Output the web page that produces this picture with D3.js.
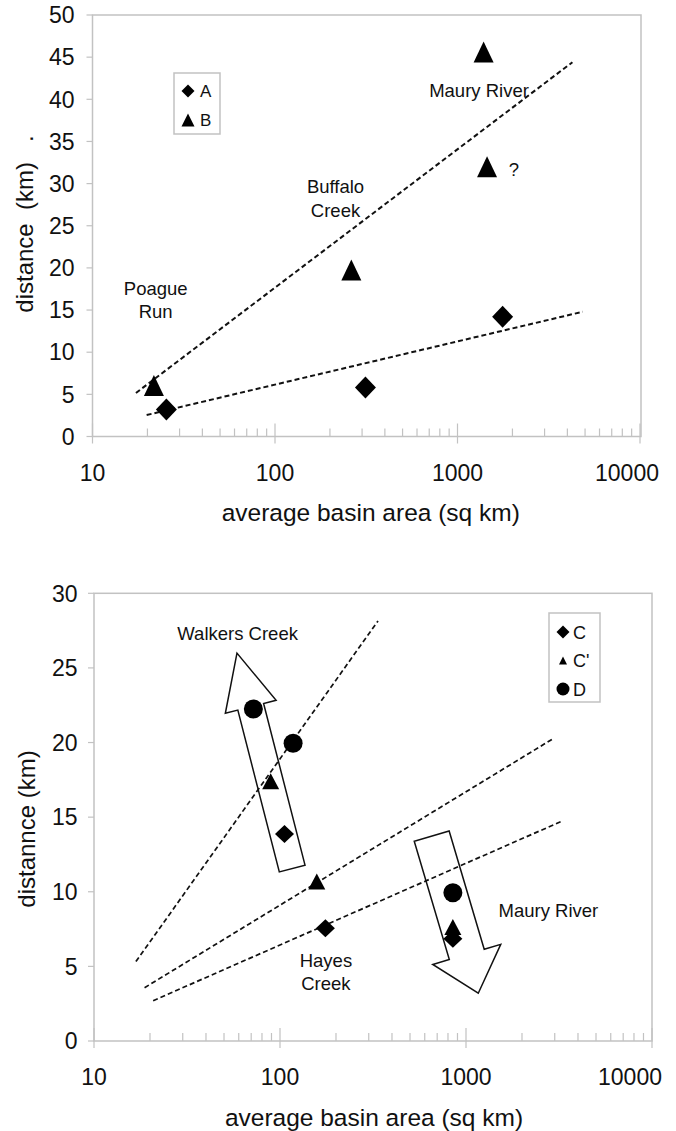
<!DOCTYPE html>
<html><head><meta charset="utf-8">
<script src="https://cdn.jsdelivr.net/npm/d3@7"></script>
<style>
body{margin:0;background:#fff}
svg{display:block}
text{font-family:"Liberation Sans",Arial,Helvetica,sans-serif;fill:#111}
</style>
</head><body>
<svg id="c" width="676" height="1131"></svg>
<script>
// ---------- data ----------
const xTickValues = [10, 100, 1000, 10000];
const xTickLabels = ["10", "100", "1000", "10000"];
const topYTicks = [0, 5, 10, 15, 20, 25, 30, 35, 40, 45, 50];
const bottomYTicks = [0, 5, 10, 15, 20, 25, 30];

// top panel
const topSeriesNames = ["A", "B"];
const areaA = [25.4, 313, 1767];
const distA = [3.2, 5.8, 14.2];
const areaB = [21.7, 262, 1390, 1452];
const distB = [6.05, 19.75, 45.6, 32.0];
const trendAreaA = [19.8, 4861];
const trendDistA = [2.55, 14.8];
const trendAreaB = [17.3, 4263];
const trendDistB = [5.16, 44.4];

// bottom panel
const bottomSeriesNames = ["C", "C'", "D"];
const areaC = [105.7, 175.4, 850];
const distC = [13.87, 7.55, 6.85];
const areaCp = [89.1, 157.7, 850];
const distCp = [17.4, 10.68, 7.64];
const areaD = [71.9, 117.6, 850];
const distD = [22.25, 19.95, 9.94];
const trend1Area = [16.8, 336.5];
const trend1Dist = [5.32, 28.15];
const trend2Area = [18.7, 2923];
const trend2Dist = [3.57, 20.24];
const trend3Area = [20.8, 3303];
const trend3Dist = [2.70, 14.75];

// arrows: [tail, tip]
const walkersArrowArea = [116.3, 58.7];
const walkersArrowDist = [11.55, 25.99];
const mauryArrowArea = [654, 1164];
const mauryArrowDist = [13.73, 3.2];

// ---------- drawing ----------
const svg = d3.select("#c");
svg.append("rect").attr("width", 676).attr("height", 1131).attr("fill", "#fff");

const GRID = "#c2c2c2";

function diamondPath(w, h) {
  return `M0,${-h/2}L${w/2},0L0,${h/2}L${-w/2},0Z`;
}
function trianglePath(w, h) {
  return `M0,${-h/2}L${w/2},${h/2}L${-w/2},${h/2}Z`;
}
function circlePath(d) {
  return d3.symbol().type(d3.symbolCircle).size(Math.PI * d * d / 4)();
}

function panel(p) {
  const g = svg.append("g");
  const x = d3.scaleLog().domain([10, 10000]).range([p.left, p.right]);
  const y = d3.scaleLinear().domain([0, p.ymax]).range([p.bottom, p.top]);

  // frame
  g.append("rect").attr("x", p.left).attr("y", p.top)
    .attr("width", p.frameRight - p.left).attr("height", p.bottom - p.top)
    .attr("fill", "none").attr("stroke", GRID).attr("stroke-width", 1.5);

  // y ticks & labels
  g.selectAll(".yt").data(p.yTicks).enter().append("line")
    .attr("x1", p.left - 6).attr("x2", p.left)
    .attr("y1", d => y(d)).attr("y2", d => y(d))
    .attr("stroke", GRID).attr("stroke-width", 1.2);
  g.selectAll(".yl").data(p.yTicks).enter().append("text")
    .attr("x", p.left - p.yLabelGap).attr("y", d => y(d))
    .attr("dy", "0.36em").attr("text-anchor", "end")
    .attr("font-size", 23).text(d => d);

  // x minor ticks
  const minor = [];
  [10, 100, 1000].forEach(dec => { for (let k = 2; k <= 9; k++) minor.push(dec * k); });
  g.selectAll(".xm").data(minor).enter().append("line")
    .attr("x1", d => x(d)).attr("x2", d => x(d))
    .attr("y1", p.bottom - 8).attr("y2", p.bottom)
    .attr("stroke", GRID).attr("stroke-width", 1.2);
  g.selectAll(".xM").data(xTickValues).enter().append("line")
    .attr("x1", d => x(d)).attr("x2", d => x(d))
    .attr("y1", p.bottom - 13).attr("y2", p.bottom + 7)
    .attr("stroke", GRID).attr("stroke-width", 1.2);
  g.selectAll(".xl").data(xTickValues).enter().append("text")
    .attr("x", d => x(d)).attr("y", p.xLabelBaseline)
    .attr("text-anchor", "middle").attr("font-size", 23)
    .text((d, i) => xTickLabels[i])
    .each(function () {
      const t = d3.select(this);
      const w = this.getComputedTextLength();
      const cx = +t.attr("x");
      if (cx + w / 2 > p.labelLimit) t.attr("x", p.labelLimit - w / 2);
    });

  // axis titles
  g.append("text").attr("x", (p.left + p.frameRight) / 2 + p.xTitleShift)
    .attr("y", p.xTitleBaseline).attr("text-anchor", "middle")
    .attr("font-size", 24.5).text("average basin area (sq km)");
  g.append("text")
    .attr("transform", `translate(${p.yTitleX},${p.yTitleY}) rotate(-90)`)
    .attr("text-anchor", "middle").attr("dy", "0.35em")
    .attr("font-size", 24).style("white-space", "pre")
    .text(p.yTitle);

  return { g, x, y };
}

function dashed(g, x, y, areas, dists, w) {
  const line = d3.line().x((d, i) => x(areas[i])).y((d, i) => y(dists[i]));
  g.append("path").attr("d", line(areas)).attr("fill", "none")
    .attr("stroke", "#111").attr("stroke-width", w)
    .attr("stroke-dasharray", "5,3");
}

function markers(g, x, y, areas, dists, path) {
  g.selectAll(null).data(areas).enter().append("path")
    .attr("d", path)
    .attr("transform", (d, i) => `translate(${x(d)},${y(dists[i])})`)
    .attr("fill", "#000");
}

function blockArrow(g, x, y, areas, dists, shaftW, headW, headL) {
  const tx = x(areas[0]), ty = y(dists[0]);
  const px = x(areas[1]), py = y(dists[1]);
  const len = Math.hypot(px - tx, py - ty);
  const ux = (px - tx) / len, uy = (py - ty) / len;
  const nx = -uy, ny = ux;
  const bx = px - ux * headL, by = py - uy * headL;
  const pts = [
    [tx + nx * shaftW / 2, ty + ny * shaftW / 2],
    [bx + nx * shaftW / 2, by + ny * shaftW / 2],
    [bx + nx * headW / 2, by + ny * headW / 2],
    [px, py],
    [bx - nx * headW / 2, by - ny * headW / 2],
    [bx - nx * shaftW / 2, by - ny * shaftW / 2],
    [tx - nx * shaftW / 2, ty - ny * shaftW / 2]
  ];
  g.append("path").attr("d", d3.line()(pts) + "Z")
    .attr("fill", "#fff").attr("stroke", "#111").attr("stroke-width", 1.5)
    .attr("stroke-linejoin", "miter");
}

function annotate(g, x, y, items, lineH) {
  items.forEach(it => {
    const n = it.lines.length;
    it.lines.forEach((s, k) => {
      g.append("text").attr("x", x(it.area))
        .attr("y", y(it.dist) + (k - (n - 1) / 2) * lineH)
        .attr("dy", "0.35em").attr("text-anchor", "middle")
        .attr("font-size", 18.5).text(s);
    });
  });
}

// ----- top panel -----
const T = panel({
  left: 92.5, right: 640, frameRight: 641, top: 15, bottom: 436.5, ymax: 50,
  yTicks: topYTicks, yLabelGap: 18, xLabelBaseline: 481, labelLimit: 659,
  xTitleBaseline: 521, xTitleShift: 4, yTitleX: 25, yTitleY: 224,
  yTitle: "distance  (km)   ."
});
dashed(T.g, T.x, T.y, trendAreaB, trendDistB, 2);
dashed(T.g, T.x, T.y, trendAreaA, trendDistA, 2);
markers(T.g, T.x, T.y, areaA, distA, diamondPath(21, 22));
markers(T.g, T.x, T.y, areaB, distB, trianglePath(20, 21));
annotate(T.g, T.x, T.y, [
  { lines: ["Maury River"], area: 1312, dist: 41.0 },
  { lines: ["?"], area: 2040, dist: 31.7 },
  { lines: ["Buffalo", "Creek"], area: 214.6, dist: 28.25 },
  { lines: ["Poague", "Run"], area: 22.2, dist: 16.2 }
], 23.5);
// top legend
{
  const lg = T.g.append("g");
  lg.append("rect").attr("x", 174).attr("y", 73).attr("width", 46).attr("height", 61)
    .attr("fill", "#fff").attr("stroke", GRID).attr("stroke-width", 1.5);
  const shapes = [diamondPath(13, 13), trianglePath(13, 13)];
  topSeriesNames.forEach((nm, i) => {
    const cy = 91 + i * 29;
    lg.append("path").attr("d", shapes[i]).attr("transform", `translate(188,${cy})`).attr("fill", "#000");
    lg.append("text").attr("x", 200).attr("y", cy + 6).attr("font-size", 17).text(nm);
  });
}

// ----- bottom panel -----
const B = panel({
  left: 94, right: 652, frameRight: 652, top: 593.3, bottom: 1041, ymax: 30,
  yTicks: bottomYTicks, yLabelGap: 16.5, xLabelBaseline: 1085, labelLimit: 662,
  xTitleBaseline: 1126, xTitleShift: 1, yTitleX: 27, yTitleY: 829,
  yTitle: "distannce (km)"
});
blockArrow(B.g, B.x, B.y, walkersArrowArea, walkersArrowDist, 26.6, 52.4, 55.4);
blockArrow(B.g, B.x, B.y, mauryArrowArea, mauryArrowDist, 36.4, 70.9, 40.5);
dashed(B.g, B.x, B.y, trend1Area, trend1Dist, 1.7);
dashed(B.g, B.x, B.y, trend2Area, trend2Dist, 1.7);
dashed(B.g, B.x, B.y, trend3Area, trend3Dist, 1.7);
markers(B.g, B.x, B.y, areaD, distD, circlePath(19));
markers(B.g, B.x, B.y, areaCp, distCp, trianglePath(17, 16));
markers(B.g, B.x, B.y, areaC, distC, diamondPath(19, 18));
annotate(B.g, B.x, B.y, [
  { lines: ["Walkers Creek"], area: 59.2, dist: 27.28 },
  { lines: ["Maury River"], area: 2773, dist: 8.71 },
  { lines: ["Hayes", "Creek"], area: 176.6, dist: 4.6 }
], 23.3);
// bottom legend
{
  const lg = B.g.append("g");
  lg.append("rect").attr("x", 549).attr("y", 613).attr("width", 51).attr("height", 89)
    .attr("fill", "#fff").attr("stroke", GRID).attr("stroke-width", 1.5);
  const shapes = [diamondPath(13, 13), trianglePath(8, 8), circlePath(13)];
  bottomSeriesNames.forEach((nm, i) => {
    const cy = 632 + i * 28.5;
    lg.append("path").attr("d", shapes[i]).attr("transform", `translate(563,${cy})`).attr("fill", "#000");
    lg.append("text").attr("x", 573).attr("y", cy + 6.5).attr("font-size", 18).text(nm);
  });
}
</script>
</body></html>
